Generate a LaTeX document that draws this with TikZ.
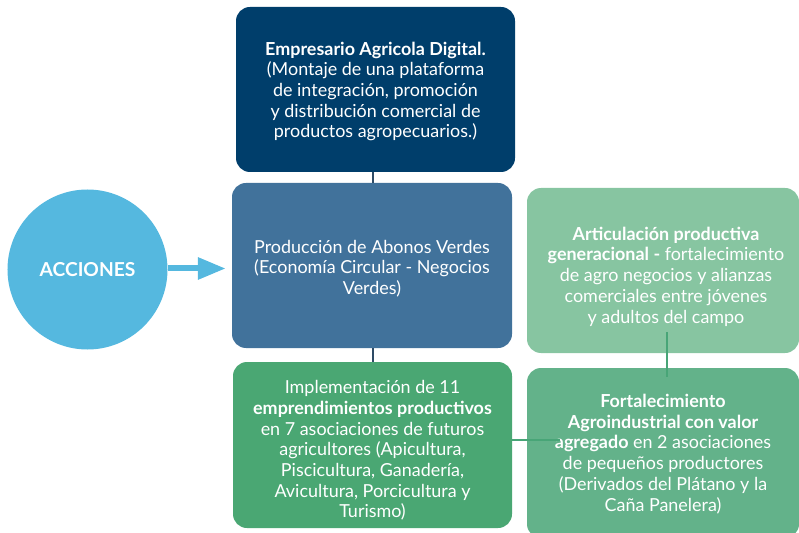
\documentclass[tikz,border=0pt]{standalone}
\usepackage{fontspec}
\setmainfont{Lato}
\usetikzlibrary{arrows.meta}
\definecolor{navy}{HTML}{003E6B}
\definecolor{steel}{HTML}{41729B}
\definecolor{lgreen}{HTML}{87C5A1}
\definecolor{mgreen}{HTML}{63B28A}
\definecolor{dgreen}{HTML}{4AA773}
\definecolor{cblue}{HTML}{55B8DF}
\definecolor{navyline}{HTML}{2E4B66}
\definecolor{greenline}{HTML}{48A577}
\tikzset{
  box/.style={rectangle, rounded corners=14bp, inner sep=0pt},
  txt/.style={inner sep=0pt, align=center, text=white, font=\fontsize{18}{20.8}\selectfont},
  navyline/.style={draw=navyline, line width=2.2bp},
  greenconn/.style={draw=greenline, line width=2.6bp},
}
\begin{document}
\begin{tikzpicture}[x=1bp,y=-1bp]
\useasboundingbox (0,0) rectangle (799,533);
\begin{scope}
\clip (0,0) rectangle (799,533);
\node[box, fill=navy, minimum width=279bp, minimum height=165bp] (top) at (375.5,89.5) {};
\node[box, fill=steel, minimum width=280bp, minimum height=165bp] (mid) at (372,265.5) {};
\node[box, fill=dgreen, minimum width=279bp, minimum height=166bp] (bl) at (372.5,445) {};
\node[box, fill=lgreen, minimum width=272bp, minimum height=165bp] (rt) at (663,270.5) {};
\node[box, fill=mgreen, minimum width=272bp, minimum height=170bp] (rb) at (663,453) {};
\end{scope}
\node[txt] (topt) at ([yshift=-2bp]top.center)
  {\textbf{Empresario Agricola Digital.}\\(Montaje de una plataforma\\de integración, promoción\\y distribución comercial de\\productos agropecuarios.)};
\node[txt] (midt) at ([yshift=-3bp]mid.center)
  {Producción de Abonos Verdes\\(Economía Circular - Negocios\\Verdes)};
\node[txt] (blt) at ([yshift=-5.5bp]bl.center)
  {Implementación de 11\\\textbf{emprendimientos productivos}\\en 7 asociaciones de futuros\\agricultores (Apicultura,\\Piscicultura, Ganadería,\\Avicultura, Porcicultura y\\Turismo)};
\node[txt] (rtt) at ([yshift=-6bp,xshift=3bp]rt.center)
  {\textbf{Articulación productiva}\\\textbf{generacional -} fortalecimiento\\de agro negocios y alianzas\\comerciales entre jóvenes\\y adultos del campo};
\node[txt] (rbt) at ([yshift=-1bp]rb.center)
  {\textbf{Fortalecimiento}\\\textbf{Agroindustrial con valor}\\\textbf{agregado} en 2 asociaciones\\de pequeños productores\\(Derivados del Plátano y la\\Caña Panelera)};
\node[circle, fill=cblue, minimum size=160bp, inner sep=0pt, text=white,
  font=\bfseries\fontsize{19.3}{22}\selectfont] (acc) at (87.5,269.5) {ACCIONES};
% connectors
\draw[navyline] (top.south -| 373,0) -- (mid.north -| 373,0);
\draw[navyline] (mid.south -| 373,0) -- (bl.north -| 373,0);
\coordinate (hend) at (560,440);
\draw[greenconn] (bl.east |- hend) -- (hend);
\coordinate (vtop) at (667,332);
\coordinate (vbot) at (667,377);
\draw[greenconn] (vtop) -- (vbot);
\draw[draw=cblue, line width=6bp, -{Triangle[length=28bp,width=21bp]}, shorten >=6bp]
  (acc.east |- 0,268.5) -- (mid.west |- 0,268.5);
\end{tikzpicture}
\end{document}
